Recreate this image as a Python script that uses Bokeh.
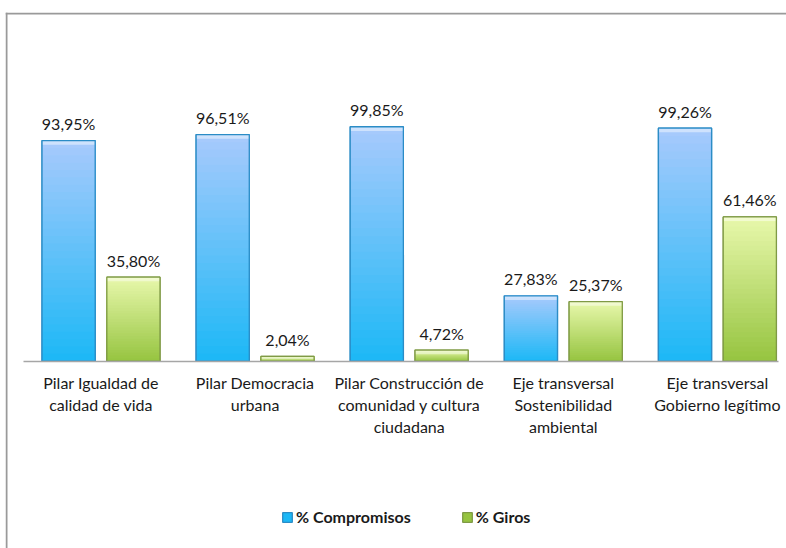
import numpy as np
from bokeh.plotting import figure
from bokeh.models import Range1d, FixedTicker, Legend, LegendItem, Span
from bokeh.core.properties import value
from bokeh.embed import file_html
from bokeh.resources import INLINE

# ---------------- data ----------------
categories = [
    "Pilar Igualdad de\ncalidad de vida",
    "Pilar Democracia\nurbana",
    "Pilar Construcción de\ncomunidad y cultura\nciudadana",
    "Eje transversal\nSostenibilidad\nambiental",
    "Eje transversal\nGobierno legítimo",
]
compromisos = [93.95, 96.51, 99.85, 27.83, 99.26]
giros = [35.80, 2.04, 4.72, 25.37, 61.46]
series_names = ["% Compromisos", "% Giros"]

# ---------------- style ----------------
FONT = "Lato"
TXT = "#1a1a1a"
OFF = 0.2103
W = 0.345
BLUE_TOP, BLUE_BOT, BLUE_EDGE = (168, 202, 252), (28, 184, 246), "#2b8cc6"
GREEN_TOP, GREEN_BOT, GREEN_EDGE = (232, 248, 172), (150, 196, 64), "#7f9a45"

X0, X1 = -0.6198, 4.4484
Y0, Y1 = -79.77, 148.51

p = figure(width=781, height=536,
           x_range=Range1d(X0, X1), y_range=Range1d(Y0, Y1),
           output_backend="svg", toolbar_location=None,
           min_border_left=0, min_border_right=0,
           min_border_top=0, min_border_bottom=0)
p.styles = {"margin-left": "5px", "margin-top": "12px"}
p.xgrid.visible = False
p.ygrid.visible = False
p.yaxis.visible = False
p.outline_line_color = None
p.background_fill_color = "white"
p.border_fill_color = "white"

# chart-area frame (left and top edges)
p.add_layout(Span(location=X0 + 0.0065, dimension="height",
                  line_color="#9a9a9a", line_width=2))
p.add_layout(Span(location=Y1 - 0.43, dimension="width",
                  line_color="#9a9a9a", line_width=2))


def hexc(c):
    return "#%02x%02x%02x" % tuple(int(round(v)) for v in c)


def draw_series(xs, vals, ctop, cbot, edge):
    base = p.vbar(x=xs, top=vals, bottom=0, width=W, fill_color=hexc(cbot),
                  line_color=edge, line_width=1.3)
    n = 30
    gx, gb, gt, gc = [], [], [], []
    for k in range(n):
        f = (k + 0.5) / n
        col = hexc(tuple(cb + (ct - cb) * f for ct, cb in zip(ctop, cbot)))
        for x, v in zip(xs, vals):
            gx.append(x)
            gb.append(v * k / n)
            gt.append(v)
            gc.append(col)
    p.vbar(x=gx, bottom=gb, top=gt, width=W, fill_color=gc, line_color=None)
    # top bevel highlight
    hb = [max(v - 1.8, v * 0.4) for v in vals]
    p.vbar(x=xs, bottom=hb, top=vals, width=W, fill_color="white",
           fill_alpha=0.45, line_color=None)
    p.vbar(x=xs, top=vals, bottom=0, width=W, fill_color=None,
           line_color=edge, line_width=1.3)
    labels = [("%.2f" % v).replace(".", ",") + "%" for v in vals]
    p.text(x=xs, y=vals, text=labels, text_align="center",
           text_baseline="alphabetic", y_offset=-17,
           text_font=value(FONT), text_font_size="16px", text_color=TXT)
    return base


xs_c = [i - OFF for i in range(len(categories))]
xs_g = [i + OFF for i in range(len(categories))]
rc = draw_series(xs_c, compromisos, BLUE_TOP, BLUE_BOT, BLUE_EDGE)
rg = draw_series(xs_g, giros, GREEN_TOP, GREEN_BOT, GREEN_EDGE)

ax = p.xaxis[0]
ax.fixed_location = 0
ax.bounds = (-0.503, 4.396)
ax.ticker = FixedTicker(ticks=list(range(len(categories))))
ax.major_label_overrides = {i: c for i, c in enumerate(categories)}
ax.major_tick_line_color = None
ax.minor_tick_line_color = None
ax.major_tick_out = 0
ax.major_tick_in = 0
ax.axis_line_color = "#a6a6a6"
ax.axis_line_width = 1.5
ax.major_label_standoff = 12
ax.major_label_text_font = FONT
ax.major_label_text_font_size = "16px"
ax.major_label_text_color = TXT
ax.major_label_text_line_height = 1.15

legend = Legend(items=[LegendItem(label=series_names[0], renderers=[rc]),
                       LegendItem(label=series_names[1], renderers=[rg])],
                orientation="horizontal", location=(276, 22),
                glyph_width=12, glyph_height=12, label_standoff=3, spacing=50,
                padding=0, margin=0,
                label_text_font=FONT, label_text_font_size="16px",
                label_text_font_style="bold", label_text_color=TXT,
                border_line_color=None, background_fill_alpha=0)
p.add_layout(legend)

open("out.html", "w").write(file_html(p, INLINE))
